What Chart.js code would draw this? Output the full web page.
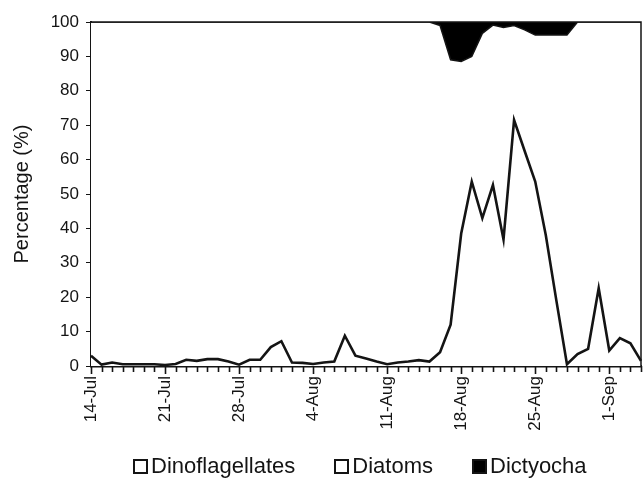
<!DOCTYPE html>
<html>
<head>
<meta charset="utf-8">
<title>Phytoplankton composition</title>
<script src="https://cdn.jsdelivr.net/npm/chart.js@4.4.1/dist/chart.umd.min.js"></script>
<style>
  html, body { margin: 0; padding: 0; background: #fff; }
  #wrap { width: 643px; height: 482px; position: relative; }
  #legend {
    position: absolute;
    top: 454px;
    left: 133px;
    display: flex;
    align-items: center;
    font-family: 'Liberation Sans', Arial, Helvetica, sans-serif;
    font-size: 22px;
    line-height: 24px;
    color: #141414;
  }
  #legend .item { display: flex; align-items: center; margin-right: 39px; }
  #legend .box {
    width: 11px;
    height: 11px;
    border: 2px solid #141414;
    margin-right: 3px;
  }
</style>
</head>
<body>
<div id="wrap">
  <canvas id="compositionChart"></canvas>
  <div id="legend"></div>
</div>
<script>
// daily samples, 14 Jul - 4 Sep
const dates = [
  "14-Jul", "15-Jul", "16-Jul", "17-Jul", "18-Jul", "19-Jul", "20-Jul",
  "21-Jul", "22-Jul", "23-Jul", "24-Jul", "25-Jul", "26-Jul", "27-Jul",
  "28-Jul", "29-Jul", "30-Jul", "31-Jul", "1-Aug", "2-Aug", "3-Aug",
  "4-Aug", "5-Aug", "6-Aug", "7-Aug", "8-Aug", "9-Aug", "10-Aug",
  "11-Aug", "12-Aug", "13-Aug", "14-Aug", "15-Aug", "16-Aug", "17-Aug",
  "18-Aug", "19-Aug", "20-Aug", "21-Aug", "22-Aug", "23-Aug", "24-Aug",
  "25-Aug", "26-Aug", "27-Aug", "28-Aug", "29-Aug", "30-Aug", "31-Aug",
  "1-Sep", "2-Sep", "3-Sep", "4-Sep"
];

// only the weekly dates get a label
const weekLabels = ["14-Jul", "21-Jul", "28-Jul", "4-Aug", "11-Aug", "18-Aug", "25-Aug", "1-Sep"];

const dinoflagellates = [
  3, 0.4, 1, 0.5, 0.5, 0.5, 0.5,
  0.3, 0.6, 1.8, 1.5, 2, 2, 1.3,
  0.4, 1.8, 1.8, 5.5, 7.2, 1, 0.9,
  0.6, 1, 1.3, 8.8, 3, 2.2, 1.3,
  0.5, 1, 1.3, 1.7, 1.3, 4, 12,
  38.5, 53.6, 43, 52.6, 36.8, 71.5, 62.5,
  53.6, 38, 19, 0.5, 3.5, 5, 22.6,
  4.5, 8.1, 6.6, 1.5
];

const diatoms = [
  97, 99.6, 99, 99.5, 99.5, 99.5, 99.5,
  99.7, 99.4, 98.2, 98.5, 98, 98, 98.7,
  99.6, 98.2, 98.2, 94.5, 92.8, 99, 99.1,
  99.4, 99, 98.7, 91.2, 97, 97.8, 98.7,
  99.5, 99, 98.7, 98.3, 98.7, 95, 77,
  50, 36.4, 53.7, 46.5, 61.6, 27.5, 35.2,
  42.6, 58.2, 77.2, 95.7, 96.5, 95, 77.4,
  95.5, 91.9, 93.4, 98.5
];

const dictyocha = [
  0, 0, 0, 0, 0, 0, 0,
  0, 0, 0, 0, 0, 0, 0,
  0, 0, 0, 0, 0, 0, 0,
  0, 0, 0, 0, 0, 0, 0,
  0, 0, 0, 0, 0, 1, 11,
  11.5, 10, 3.3, 0.9, 1.6, 1, 2.3,
  3.8, 3.8, 3.8, 3.8, 0, 0, 0,
  0, 0, 0, 0
];

const yTicks = [0, 10, 20, 30, 40, 50, 60, 70, 80, 90, 100];

const ink = "#141414";
const fontFamily = "'Liberation Sans', Arial, Helvetica, sans-serif";

// day tick marks under the x axis plus the top/right frame of the plot
const frameAndDayTicks = {
  id: "frameAndDayTicks",
  afterDatasetsDraw(chart) {
    const { ctx, chartArea, scales } = chart;
    const xScale = scales.x;
    ctx.save();
    ctx.strokeStyle = ink;
    ctx.lineWidth = 1.5;
    ctx.beginPath();
    ctx.moveTo(chartArea.left, chartArea.top);
    ctx.lineTo(chartArea.right, chartArea.top);
    ctx.lineTo(chartArea.right, chartArea.bottom);
    ctx.stroke();

    ctx.lineWidth = 1.6;
    dates.forEach((d, i) => {
      const px = Math.round(xScale.getPixelForValue(i)) + 0.5;
      const len = weekLabels.includes(d) ? 8 : 6;
      ctx.beginPath();
      ctx.moveTo(px, chartArea.bottom);
      ctx.lineTo(px, chartArea.bottom + len);
      ctx.stroke();
    });
    ctx.restore();
  }
};

function buildLegend(chart) {
  const legend = document.getElementById("legend");
  legend.innerHTML = "";
  chart.data.datasets.forEach((ds) => {
    const item = document.createElement("span");
    item.className = "item";
    const box = document.createElement("span");
    box.className = "box";
    box.style.background = ds.backgroundColor;
    const text = document.createElement("span");
    text.textContent = ds.label;
    item.appendChild(box);
    item.appendChild(text);
    legend.appendChild(item);
  });
}

function renderCompositionChart() {
  const canvas = document.getElementById("compositionChart").getContext("2d");
  const chart = new Chart(canvas, {
    type: "line",
    data: {
      labels: dates,
      datasets: [
        {
          label: "Dinoflagellates",
          data: dinoflagellates,
          fill: "origin",
          backgroundColor: "#ffffff",
          borderColor: ink,
          borderWidth: 2.6,
        },
        {
          label: "Diatoms",
          data: diatoms,
          fill: "-1",
          backgroundColor: "#ffffff",
          borderColor: ink,
          borderWidth: 1.5,
        },
        {
          label: "Dictyocha",
          data: dictyocha,
          fill: "-1",
          backgroundColor: "#000000",
          borderColor: "#000000",
          borderWidth: 1,
        },
      ],
    },
    options: {
      responsive: true,
      maintainAspectRatio: false,
      animation: false,
      elements: {
        point: { radius: 0 },
        line: { tension: 0 },
      },
      layout: {
        padding: { left: 6, right: 2, top: 22, bottom: 46 },
      },
      scales: {
        x: {
          grid: { display: false, drawTicks: false },
          border: { display: true, color: ink, width: 2.5 },
          afterFit: (scale) => {
            scale.height = 70;
            scale.paddingLeft = 0;
            scale.paddingRight = 0;
          },
          ticks: {
            autoSkip: false,
            minRotation: 90,
            maxRotation: 90,
            padding: 10,
            color: ink,
            font: { family: fontFamily, size: 17 },
            callback: function (value) {
              const lbl = this.getLabelForValue(value);
              return weekLabels.includes(lbl) ? lbl : "";
            },
          },
        },
        y: {
          stacked: true,
          min: 0,
          max: 100,
          afterFit: (scale) => { scale.width = 85; },
          afterBuildTicks: (scale) => {
            scale.ticks = yTicks.map((v) => ({ value: v }));
          },
          grid: {
            drawOnChartArea: false,
            drawTicks: true,
            tickLength: 5,
            color: ink,
          },
          border: { display: true, color: ink, width: 2 },
          ticks: {
            padding: 7,
            color: ink,
            font: { family: fontFamily, size: 17 },
          },
          title: {
            display: true,
            text: "Percentage (%)",
            color: ink,
            padding: { top: 4, bottom: 4 },
            font: { family: fontFamily, size: 20 },
          },
        },
      },
      plugins: {
        legend: { display: false },
        tooltip: { enabled: false },
      },
    },
    plugins: [frameAndDayTicks],
  });
  buildLegend(chart);
}

document.addEventListener("DOMContentLoaded", renderCompositionChart);
</script>
</body>
</html>
